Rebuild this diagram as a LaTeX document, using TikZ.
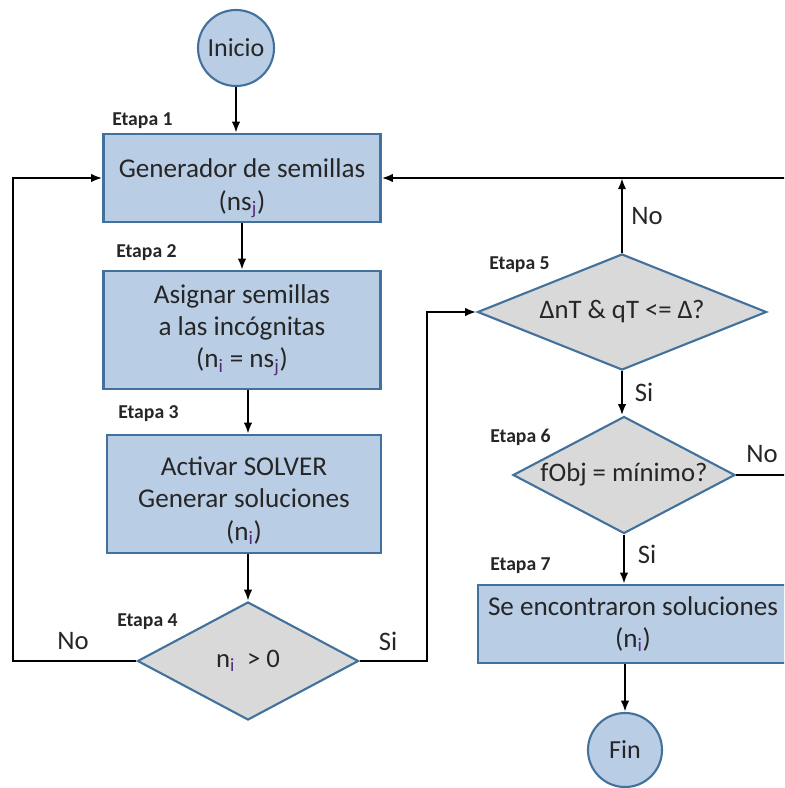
\documentclass[tikz,border=0pt]{standalone}
\usepackage{fontspec}
\setmainfont{Carlito}
\usetikzlibrary{shapes.geometric,arrows.meta,positioning}

\definecolor{cajaazul}{HTML}{B9CDE5}
\definecolor{bordeazul}{HTML}{41719C}
\definecolor{gris}{HTML}{D9D9D9}
\definecolor{texto}{HTML}{262626}
\definecolor{subind}{HTML}{5A2A7A}
\newcommand{\subi}[1]{\textsubscript{\textcolor{subind}{#1}}}
\newcommand{\bajar}[1]{\rule{0pt}{#1}}

\begin{document}
\begin{tikzpicture}[x=0.025cm, y=-0.025cm]
\tikzstyle{caja}=[rectangle, draw=bordeazul, fill=cajaazul, line width=1.5pt, align=center, text=texto, inner sep=0pt, font=\fontsize{19.3}{23}\selectfont]
\tikzstyle{decision}=[diamond, draw=bordeazul, fill=gris, line width=1.5pt, inner sep=0pt, aspect=2, text=texto, font=\fontsize{19}{23}\selectfont]
\tikzstyle{extremo}=[circle, draw=bordeazul, fill=cajaazul, line width=1.5pt, inner sep=0pt, text=texto, font=\fontsize{18.5}{22}\selectfont]
\tikzstyle{etapa}=[anchor=west, inner sep=0pt, text=texto, font=\bfseries\fontsize{14}{16}\selectfont]
\tikzstyle{rama}=[text=texto, font=\fontsize{19}{22}\selectfont]
\tikzstyle{flecha}=[-{Latex[length=8pt,width=6pt]}, line width=1.6pt]

\useasboundingbox (0,0) rectangle (784,788);
\clip (0,0) rectangle (784,788);

%%%%%%%%%%%%%%%%%%%%%%%%%%%%%%
%%%%% POSICIONES
\coordinate (inicio) at (236, 48);
\coordinate (gen) at (242, 178);
\coordinate (asig) at (242, 330);
\coordinate (activ) at (244, 494);
\coordinate (d4) at (248, 661);

\coordinate (d5) at (622, 312);
\coordinate (d6) at (624, 475);
\coordinate (sol) at (633, 624);
\coordinate (fin) at (625, 750);

%%%%% ESQUINAS
\coordinate (izq) at (13, 661);
\coordinate (der4) at (427, 661);
\coordinate (esq) at (800, 475);

%%%%%%%%%%%%%%%%%%%%%%%%%%%%%%
%%%%% COLUMNA IZQUIERDA
\node[extremo, minimum size=1.9cm] (inicio) at (inicio) {Inicio};
\node[caja, minimum width=6.925cm, minimum height=2.2cm] (gen) at (gen) {\bajar{28pt}Generador de semillas\\(ns\subi{j})};
\node[caja, minimum width=6.925cm, minimum height=2.95cm] (asig) at (asig) {Asignar semillas\\a las incógnitas\\(n\subi{i} = ns\subi{j})};
\node[caja, minimum width=6.85cm, minimum height=2.95cm] (activ) at (activ) {\bajar{23pt}Activar SOLVER\\Generar soluciones\\(n\subi{i})};
\node[decision, minimum width=5.525cm, minimum height=2.95cm] (d4) at (d4) {\makebox[0pt]{n\subi{i} \ > 0}};

%%%%%%%%%%%%%%%%%%%%%%%%%%%%%%
%%%%% COLUMNA DERECHA
\node[decision, minimum width=7.225cm, minimum height=2.9cm] (d5) at (d5) {\makebox[0pt]{ΔnT \& qT <= Δ?}};
\node[decision, minimum width=5.55cm, minimum height=2.925cm] (d6) at (d6) {\makebox[0pt]{fObj = mínimo?}};
\node[caja, minimum width=7.75cm, minimum height=1.95cm] (sol) at (sol) {Se encontraron soluciones\\(n\subi{i})};
\node[extremo, minimum size=1.85cm] (fin) at (fin) {Fin};

%%%%%%%%%%%%%%%%%%%%%%%%%%%%%%
%%%%% ETAPAS
\node[etapa] (e1) at (112, 121) {Etapa 1};
\node[etapa] (e2) at (116, 253) {Etapa 2};
\node[etapa] (e3) at (118, 414) {Etapa 3};
\node[etapa] (e4) at (117, 622) {Etapa 4};
\node[etapa] (e5) at (489, 265) {Etapa 5};
\node[etapa] (e6) at (490, 437) {Etapa 6};
\node[etapa] (e7) at (490, 566) {Etapa 7};

%%%%%%%%%%%%%%%%%%%%%%%%%%%%%%
%%%%% CONEXIONES
\draw[flecha] (inicio.south) -- (inicio.south |- gen.north);
\draw[flecha] (gen.south) -- (gen.south |- asig.north);
\draw[flecha] (asig.south -| d4) -- (activ.north -| d4);
\draw[flecha] (activ.south -| d4) -- (d4.north);

\draw[flecha] (d4.west) -- (izq) |- (gen.west);
\draw[flecha] (d4.east) -- (der4) |- (d5.west);

\draw[flecha] (d5.north) -- (d5.north |- gen.east);
\draw[flecha] (d5.south) -- (d5.south |- d6.north);
\draw[flecha] (d6.east) -- (esq) |- (gen.east);
\draw[flecha] (d6.south) -- (d6.south |- sol.north);
\draw[flecha] (sol.south -| fin) -- (fin.north);

%%%%% RAMAS
\node[rama] (no4) at (73, 641) {No};
\node[rama] (si4) at (388, 641) {Si};
\node[rama] (no5) at (647, 216) {No};
\node[rama] (si5) at (644, 392) {Si};
\node[rama] (no6) at (762, 454) {No};
\node[rama] (si6) at (647, 554) {Si};

\end{tikzpicture}
\end{document}
